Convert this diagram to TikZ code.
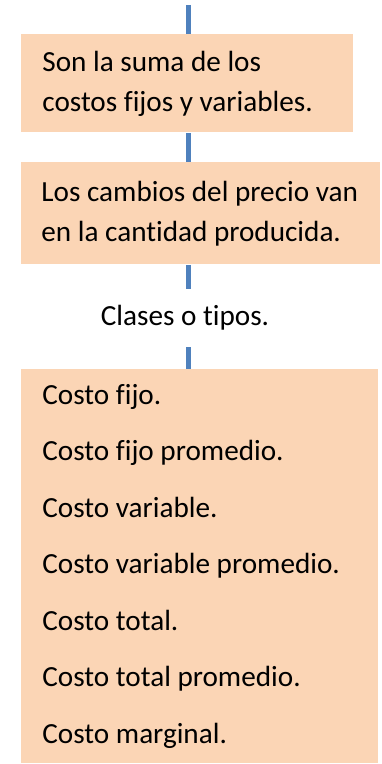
\documentclass[tikz,border=0pt]{standalone}
\usepackage{fontspec}
\setmainfont{Carlito}[Ligatures=NoCommon]
\usepackage{tikz}
\definecolor{peach}{HTML}{FBD5B5}
\definecolor{linkblue}{HTML}{4F81BD}

\begin{document}
\begin{tikzpicture}[x=0.5pt, y=-0.5pt,
  box/.style={fill=peach, anchor=north west, inner xsep=10.5pt, inner ysep=0pt, align=flush left, font=\fontsize{14.6}{20}\selectfont},
  link/.style={line width=2.25pt, color=linkblue}]

\useasboundingbox (0,0) rectangle (381,764);

\coordinate (top) at (188.5,5);

\node[box, text width=145pt, minimum width=166pt, minimum height=49pt] (suma) at (21,34) {Son la suma de los\\costos fijos y variables.};

\node[box, inner xsep=10pt, text width=159.5pt, minimum width=179.5pt, minimum height=51pt] (precio) at (21,162) {Los cambios del precio van\\en la cantidad producida.};

\node[font=\fontsize{14.6}{20}\selectfont, minimum height=29pt, inner sep=0pt] (clases) at (185,318) {Clases o tipos.};

\node[box, text width=157.5pt, minimum width=178.5pt, minimum height=197pt, font=\fontsize{14.6}{28.25}\selectfont] (tipos) at (21,369) {Costo fijo.\\Costo fijo promedio.\\Costo variable.\\Costo variable promedio.\\Costo total.\\Costo total promedio.\\Costo marginal.};

\draw[link] (top) -- (top |- suma.north);
\draw[link] (suma.south -| top) -- (top |- precio.north);
\draw[link] (precio.south -| top) -- (top |- clases.north);
\draw[link] (clases.south -| top) -- (top |- tipos.north);

\end{tikzpicture}
\end{document}
